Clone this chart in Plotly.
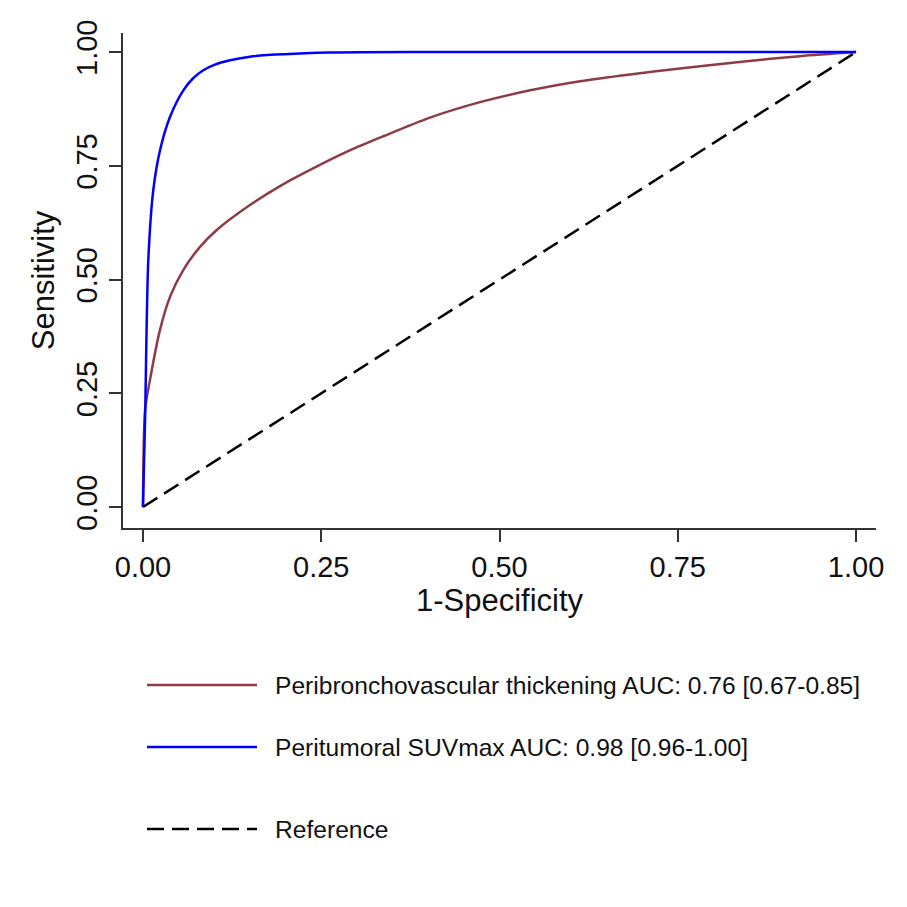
import plotly.graph_objects as go

# ---- data ----
pbv_fpr = [0, 0.003, 0.0098, 0.0238, 0.0379, 0.0565, 0.080, 0.1034, 0.150, 0.197, 0.244, 0.290,
           0.337, 0.4025, 0.4727, 0.543, 0.613, 0.683, 0.753, 0.840, 0.921, 1.0]
pbv_tpr = [0, 0.213, 0.279, 0.389, 0.462, 0.521, 0.572, 0.609, 0.664, 0.710, 0.749, 0.784,
           0.815, 0.856, 0.890, 0.916, 0.936, 0.951, 0.964, 0.979, 0.991, 1.0]

suv_fpr = [0, 0.003, 0.0075, 0.0145, 0.024, 0.038, 0.0566, 0.070, 0.0846, 0.100, 0.122, 0.15, 0.262, 0.5, 1.0]
suv_tpr = [0, 0.198, 0.543, 0.697, 0.785, 0.858, 0.916, 0.942, 0.960, 0.972, 0.982, 0.990, 0.999, 1.0, 1.0]

ref_fpr = [0, 1]
ref_tpr = [0, 1]

tick_vals = [0, 0.25, 0.5, 0.75, 1.0]
tick_text = ["0.00", "0.25", "0.50", "0.75", "1.00"]

legend_labels = [
    "Peribronchovascular thickening AUC: 0.76 [0.67-0.85]",
    "Peritumoral SUVmax AUC: 0.98 [0.96-1.00]",
    "Reference",
]

RED = "#8E3B46"
BLUE = "#0000FF"
BLACK = "#000000"
FONT = "Liberation Sans, Arial, sans-serif"

fig = go.Figure()
fig.add_trace(go.Scatter(x=pbv_fpr, y=pbv_tpr, mode="lines",
                         line=dict(color=RED, width=2.5, shape="spline", smoothing=0.8),
                         name=legend_labels[0], showlegend=False))
fig.add_trace(go.Scatter(x=ref_fpr, y=ref_tpr, mode="lines",
                         line=dict(color=BLACK, width=2.5, dash="17px,8px"),
                         name=legend_labels[2], showlegend=False))
fig.add_trace(go.Scatter(x=suv_fpr, y=suv_tpr, mode="lines",
                         line=dict(color=BLUE, width=2.5, shape="spline", smoothing=0.8),
                         name=legend_labels[1], showlegend=False))

# manual legend (plot area on the page: x 123..876 px, y 33..528 px)
def px_x(px):
    return (px - 123) / 753.0

def px_y(py):
    return (528 - py) / 495.0

legend_rows = [(685, RED, "solid"), (747, BLUE, "solid"), (829, BLACK, "17px,8px")]
for (py, col, dash), lab in zip(legend_rows, legend_labels):
    fig.add_shape(type="line", xref="paper", yref="paper",
                  x0=px_x(147), x1=px_x(257), y0=px_y(py), y1=px_y(py),
                  line=dict(color=col, width=2.5, dash=dash))
    fig.add_annotation(xref="paper", yref="paper", x=px_x(273), y=px_y(py),
                       text=lab, showarrow=False, xanchor="left", yanchor="middle",
                       font=dict(family=FONT, size=24.6, color="#111111"))

axis_common = dict(
    showgrid=False, zeroline=False, showline=True, linecolor="#333333", linewidth=2,
    ticks="outside", ticklen=12, tickwidth=2, tickcolor="#333333",
    tickmode="array", tickvals=tick_vals, ticktext=tick_text,
    tickfont=dict(family=FONT, size=29, color="#111111"),
)

fig.update_xaxes(range=[-0.028, 1.028], title=dict(text="1-Specificity", standoff=4,
                 font=dict(family=FONT, size=31, color="#111111")), **axis_common)
fig.update_yaxes(range=[-0.046, 1.042], tickangle=-90,
                 title=dict(text="Sensitivity", standoff=8,
                            font=dict(family=FONT, size=31, color="#111111")), **axis_common)

# page body has an 8px margin, so offset the margins accordingly
fig.update_layout(
    width=907, height=907,
    margin=dict(l=115, r=39, t=25, b=387),
    paper_bgcolor="white", plot_bgcolor="white",
    showlegend=False,
)

fig.write_html("out.html")
